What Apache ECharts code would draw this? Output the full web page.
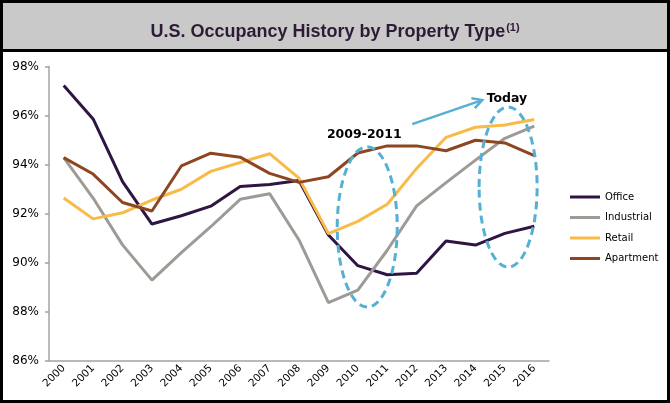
<!DOCTYPE html>
<html><head><meta charset="utf-8">
<script src="https://cdn.jsdelivr.net/npm/echarts@6/dist/echarts.min.js"></script>
<style>html,body{margin:0;padding:0;background:#fff}#c{width:670px;height:403px}</style>
</head><body><div id="c"></div>
<script>
const years = ['2000','2001','2002','2003','2004','2005','2006','2007','2008','2009','2010','2011','2012','2013','2014','2015','2016'];
const office     = [97.22,95.86,93.30,91.57,91.91,92.30,93.10,93.18,93.35,91.12,89.87,89.50,89.56,90.88,90.71,91.19,91.48];
const industrial = [94.28,92.63,90.72,89.28,90.40,91.46,92.58,92.81,90.92,88.36,88.87,90.50,92.31,93.26,94.18,95.07,95.57];
const retail     = [92.63,91.78,92.03,92.55,92.99,93.72,94.08,94.44,93.44,91.18,91.68,92.38,93.84,95.11,95.52,95.61,95.84];
const apartment  = [94.28,93.61,92.45,92.10,93.94,94.46,94.30,93.64,93.27,93.50,94.47,94.76,94.76,94.56,94.99,94.88,94.36];
const seriesNames = ['Office','Industrial','Retail','Apartment'];
const yMin = 86, yMax = 98, yStep = 2;
const titleText = 'U.S. Occupancy History by Property Type';
const titleSup = '(1)';
const note1 = '2009-2011';
const note2 = 'Today';

const colors = ['#2e1543','#9e9b97','#f8bb48','#8e4522'];
const chart = echarts.init(document.getElementById('c'), null, {renderer:'canvas'});
const axisColor = '#a3a3a3';
const option = {
  animation:false,
  backgroundColor:'#fff',
  color: colors,
  title:{
    text:'{a|'+titleText+'}{b|'+titleSup+'}',
    left:'center', top:17,
    textStyle:{
      rich:{
        a:{fontFamily:'Liberation Sans', fontWeight:'bold', fontSize:18, color:'#2d1b36'},
        b:{fontFamily:'Liberation Sans', fontWeight:'bold', fontSize:11, color:'#2d1b36', padding:[0,0,9,1]}
      }
    }
  },
  legend:{
    orient:'vertical', left:565, top:187, itemGap:10.5,
    itemWidth:30, itemHeight:3, icon:'rect',
    textStyle:{fontFamily:'DejaVu Sans', fontSize:10, color:'#000'},
    data: seriesNames
  },
  grid:{left:49, right:121, top:66.5, bottom:42.5},
  xAxis:{
    type:'category', data:years, boundaryGap:true,
    axisLine:{lineStyle:{color:axisColor, width:1.5}},
    axisTick:{interval:0, length:4, lineStyle:{color:axisColor, width:1.5}},
    axisLabel:{interval:0, rotate:45, fontFamily:'DejaVu Sans', fontSize:10.5, color:'#000', margin:6}
  },
  yAxis:{
    type:'value', min:yMin, max:yMax, interval:yStep,
    splitLine:{show:false},
    axisLine:{show:true, lineStyle:{color:axisColor, width:1.5}},
    axisTick:{show:true, length:4, lineStyle:{color:axisColor, width:1.5}},
    axisLabel:{formatter:'{value}%', fontFamily:'DejaVu Sans', fontSize:12, color:'#000', margin:10}
  },
  series:[office,industrial,retail,apartment].map((d,i)=>({
    name:seriesNames[i], type:'line', data:d, symbol:'none',
    lineStyle:{width:3, color:colors[i]}, z:2
  }))
};
chart.setOption(option);

// fractional category positions: interpolate between neighbouring category centres
const P = (x,y)=>{
  const i0 = Math.floor(x), f = x - i0;
  const p0 = chart.convertToPixel({gridIndex:0},[i0,y]);
  const p1 = chart.convertToPixel({gridIndex:0},[i0+1,y]);
  return [p0[0] + f*(p1[0]-p0[0]), p0[1]];
};
const blue = '#55b0d3';
const e1c = P(10.32, 91.45), e1t = P(10.32, 94.72);
const e2c = P(15.11, 93.08), e2t = P(15.11, 96.35);
const a0 = P(11.85, 95.65), a1 = P(14.23, 96.63);
const ang = Math.atan2(a1[1]-a0[1], a1[0]-a0[0]);
const hl = 11, ha = 0.5;
const h1 = [a1[0]-hl*Math.cos(ang-ha), a1[1]-hl*Math.sin(ang-ha)];
const h2 = [a1[0]-hl*Math.cos(ang+ha), a1[1]-hl*Math.sin(ang+ha)];
const t1 = P(10.22, 95.23), t2 = P(15.07, 96.7);
chart.setOption({graphic:[
  {type:'rect', z:-10, silent:true, shape:{x:0,y:0,width:670,height:51}, style:{fill:'#c9c9c9'}},
  {type:'line', z:-9, silent:true, shape:{x1:0,y1:50.5,x2:670,y2:50.5}, style:{stroke:'#000', lineWidth:3}},
  {type:'rect', z:100, silent:true, shape:{x:1.5,y:1.5,width:667,height:400}, style:{fill:null, stroke:'#000', lineWidth:3}},
  {type:'ellipse', z:50, silent:true, shape:{cx:e1c[0], cy:e1c[1], rx:30, ry:e1c[1]-e1t[1]}, style:{fill:null, stroke:blue, lineWidth:3, lineDash:[8,5]}},
  {type:'ellipse', z:50, silent:true, shape:{cx:e2c[0], cy:e2c[1], rx:29, ry:e2c[1]-e2t[1]}, style:{fill:null, stroke:blue, lineWidth:3, lineDash:[8,5]}},
  {type:'line', z:50, silent:true, shape:{x1:a0[0],y1:a0[1],x2:a1[0],y2:a1[1]}, style:{stroke:blue, lineWidth:2.5}},
  {type:'polyline', z:50, silent:true, shape:{points:[h1,a1,h2]}, style:{fill:null, stroke:blue, lineWidth:2.5}},
  {type:'text', z:60, silent:true, x:t1[0], y:t1[1], style:{text:note1, fontFamily:'DejaVu Sans', fontWeight:'bold', fontSize:12.5, fill:'#000', align:'center', verticalAlign:'middle'}},
  {type:'text', z:60, silent:true, x:t2[0], y:t2[1], style:{text:note2, fontFamily:'DejaVu Sans', fontWeight:'bold', fontSize:12.5, fill:'#000', align:'center', verticalAlign:'middle'}}
]});
</script></body></html>
